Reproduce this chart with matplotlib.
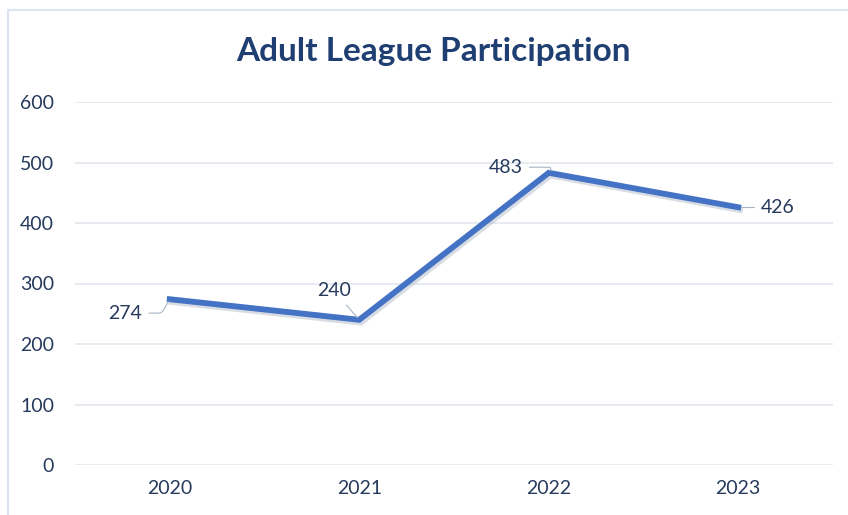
import matplotlib
matplotlib.use("Agg")
import matplotlib.pyplot as plt
import matplotlib.patheffects as pe
from matplotlib.patches import Rectangle

years = ["2020", "2021", "2022", "2023"]
participants = [274, 240, 483, 426]
y_ticks = [0, 100, 200, 300, 400, 500, 600]

# label offsets in points (dx, dy) relative to each point
label_offsets = [(-20, -10), (-6, 21), (-19, 4), (16, 0)]

plt.rcParams['font.family'] = ['Lato', 'DejaVu Sans']

fig = plt.figure(figsize=(8.48, 5.15), dpi=100)
fig.patch.set_facecolor("white")

# outer chart frame
fig.patches.append(Rectangle((8 / 848, -0.05), 1.2, 1 - 10 / 515 + 0.05,
                             transform=fig.transFigure, fill=False,
                             edgecolor="#dbe5f1", linewidth=1.5))

ax = fig.add_axes([75 / 848, 1 - 465 / 515, 758 / 848, 363 / 515])
x = list(range(len(years)))
ax.plot(x, participants, color="#4472c4", linewidth=4.2, solid_joinstyle="miter",
        path_effects=[pe.SimpleLineShadow(offset=(1.2, -2), shadow_color="#aab4c4", alpha=0.45),
                      pe.Normal()], zorder=3)

for xi, val, (dx, dy) in zip(x, participants, label_offsets):
    ha = "right" if dx < 0 else "left"
    # the label sitting above its point gets a straight leader
    conn = "arc3" if dy > 15 else "angle,angleA=0,angleB=60,rad=3"
    ax.annotate(str(val), (xi, val), xytext=(dx, dy), textcoords="offset points",
                ha=ha, va="center", fontsize=14, color="#263a5c",
                arrowprops=dict(arrowstyle="-", color="#a8b4c6", lw=0.8,
                                shrinkA=3, shrinkB=2, connectionstyle=conn))

ax.set_xlim(-0.5, len(years) - 0.5)
ax.set_ylim(0, 600)
ax.set_yticks(y_ticks)
ax.set_xticks(x)
ax.set_xticklabels(years)
ax.tick_params(axis="both", length=0, labelsize=14, labelcolor="#263a5c")
ax.tick_params(axis="y", pad=15)
ax.tick_params(axis="x", pad=11)
ax.grid(axis="y", color="#e3e8ef", linewidth=1.2)
ax.set_axisbelow(True)
for s in ax.spines.values():
    s.set_visible(False)

fig.text(433 / 848, 1 - 51 / 515, "Adult League Participation", ha="center", va="center",
         fontsize=24, fontweight="bold", color="#1f3f73")

fig.savefig("out.png", dpi=100)
